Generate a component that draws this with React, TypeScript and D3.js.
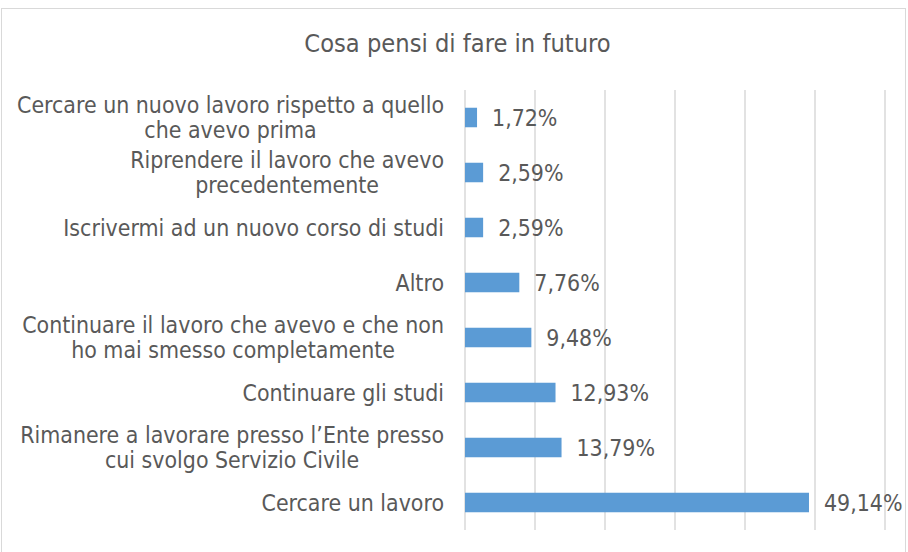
import React from "react";
import * as d3 from "d3";

const categories: string[][] = [
  ["Cercare un nuovo lavoro rispetto a quello", "che avevo prima"],
  ["Riprendere il lavoro che avevo", "precedentemente"],
  ["Iscrivermi ad un nuovo corso di studi"],
  ["Altro"],
  ["Continuare il lavoro che avevo e che non", "ho mai smesso completamente"],
  ["Continuare gli studi"],
  ["Rimanere a lavorare presso l\u2019Ente presso", "cui svolgo Servizio Civile"],
  ["Cercare un lavoro"],
];
const values: number[] = [1.72, 2.59, 2.59, 7.76, 9.48, 12.93, 13.79, 49.14];
const ticks: number[] = [0, 10, 20, 30, 40, 50, 60];
const title = "Cosa pensi di fare in futuro";

const W = 908;
const H = 552;
const FONT = "'DejaVu Sans Condensed', 'DejaVu Sans', sans-serif";
const TEXT = "#595959";
const LABEL_SIZE = 22.9;

export default function App() {
  const x = d3.scaleLinear().domain([0, 60]).range([465, 885]);
  const y = d3
    .scaleBand<number>()
    .domain(d3.range(values.length))
    .range([90, 530])
    .paddingInner(0.645)
    .paddingOuter(0.3225);
  const fmt = (v: number) => v.toFixed(2).replace(".", ",") + "%";
  const measureCtx = (() => {
    if (typeof document === "undefined") return null;
    const c = document.createElement("canvas").getContext("2d");
    if (c) c.font = `${LABEL_SIZE}px ${FONT}`;
    return c;
  })();
  const widthOf = (s: string) => (measureCtx ? measureCtx.measureText(s).width : s.length * 10);
  return (
    <svg
      width={W}
      height={H}
      style={{ position: "absolute", left: 0, top: 0, background: "#fff" }}
      fontFamily={FONT}
    >
      <rect x={1.5} y={8.5} width={904} height={560} fill="#fff" stroke="#D9D9D9" strokeWidth={1} />
      <text x={457.5} y={51.5} textAnchor="middle" fontSize={25.2} fill={TEXT}>
        {title}
      </text>
      {ticks.map((t) => (
        <line key={t} x1={x(t)} x2={x(t)} y1={90} y2={530} stroke="#D9D9D9" strokeWidth={1.5} />
      ))}
      {values.map((v, i) => {
        const yy = y(i)!;
        const cy = yy + y.bandwidth() / 2;
        const lines = categories[i];
        const lh = 25;
        const y0 = cy - ((lines.length - 1) * lh) / 2;
        const blockW = Math.max(...lines.map(widthOf));
        const cx = 444 - blockW / 2;
        return (
          <g key={i}>
            <rect x={x(0)} y={yy} width={x(v) - x(0)} height={y.bandwidth()} fill="#5B9BD5" />
            <text x={x(v) + 15} y={cy} dy="0.35em" fontSize={LABEL_SIZE} fill={TEXT}>
              {fmt(v)}
            </text>
            {lines.map((l, j) => (
              <text key={j} x={cx} y={y0 + j * lh} dy="0.35em" textAnchor="middle" fontSize={LABEL_SIZE} fill={TEXT}>
                {l}
              </text>
            ))}
          </g>
        );
      })}
    </svg>
  );
}
